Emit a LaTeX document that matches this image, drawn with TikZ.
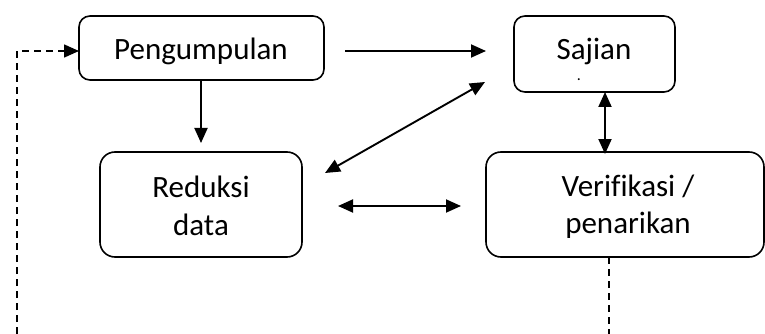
\documentclass[tikz,border=0pt]{standalone}
\usepackage{fontspec}
\setmainfont[Ligatures=NoCommon]{Carlito}
\usetikzlibrary{arrows.meta}
\begin{document}
\begin{tikzpicture}[x=1pt,y=1pt,
  box/.style={draw,line width=1.6pt,rounded corners=11pt,inner sep=0pt},
  txt/.style={anchor=base,inner sep=0pt,font=\fontsize{31}{38}\selectfont},
  tip/.style={},
  arr/.style={line width=1.9pt,-{Triangle[length=15pt,width=13pt]}},
  darr/.style={line width=1.9pt,{Triangle[length=15pt,width=13pt]}-{Triangle[length=15pt,width=13pt]}},
  dline/.style={line width=1.6pt,dash pattern=on 7pt off 5pt}]
\useasboundingbox (0,0) rectangle (765,-334);
% boxes
\node[box,minimum width=245pt,minimum height=64pt] (P) at (201.5,-48) {};
\node[box,minimum width=161pt,minimum height=76pt] (S) at (594.5,-54) {};
\node[box,rounded corners=15pt,minimum width=202pt,minimum height=105pt] (R) at (201,-204.5) {};
\node[box,rounded corners=15pt,minimum width=278pt,minimum height=105pt] (V) at (625,-204.5) {};
% texts
\node[txt] (tP) at (201,-60) {Pengumpulan};
\node[txt] (tS) at (594,-60) {Sajian};
\node[txt,font=\fontsize{16}{18}\selectfont] (tSd) at (579,-81) {.};
\node[txt] (tR1) at (201,-197) {Reduksi};
\node[txt] (tR2) at (201,-235) {data};
\node[txt] (tV1) at (628,-196) {Verifikasi /};
\node[txt] (tV2) at (628,-233) {penarikan};
% connector ends
\coordinate (a1) at (345,-51);
\coordinate (a2) at (486,-51);
\coordinate (b1) at (201,-80);
\coordinate (b2) at (201,-143);
\coordinate (c1) at (485,-82);
\coordinate (c2) at (325,-173);
\coordinate (d1) at (338,-206);
\coordinate (d2) at (461,-206);
\coordinate (e1) at (605,-92);
\coordinate (e2) at (605,-154);
\coordinate (f1) at (609,-257);
\coordinate (f2) at (609,-334);
\coordinate (g1) at (17,-334);
\coordinate (g2) at (17,-51);
\coordinate (g3) at (79,-51);
% connectors
\draw[arr] (a1) -- (a2);
\draw[arr] (b1) -- (b2);
\draw[darr] (c1) -- (c2);
\draw[darr] (d1) -- (d2);
\draw[darr] (e1) -- (e2);
\draw[dline] (f1) -- (f2);
\draw[dline,-{Triangle[length=15pt,width=13pt]}] (g1) -- (g2) -- (g3);
\end{tikzpicture}
\end{document}
